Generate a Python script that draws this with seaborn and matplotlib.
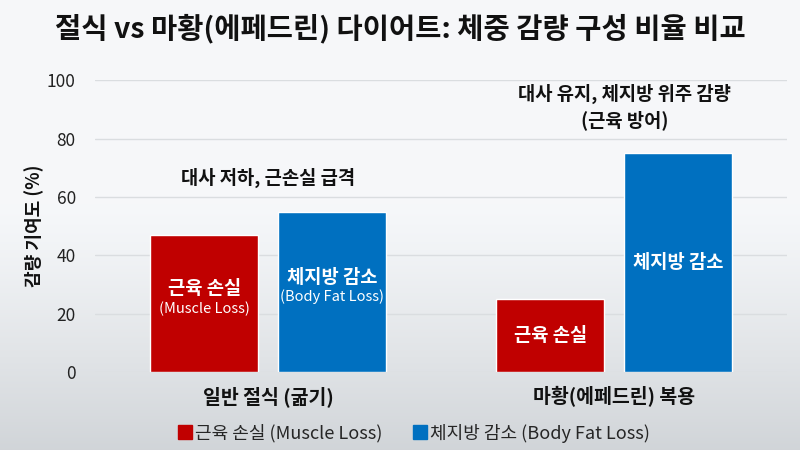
import numpy as np
import pandas as pd
import matplotlib
matplotlib.use("Agg")
import matplotlib.pyplot as plt
import seaborn as sns
from matplotlib.lines import Line2D

# data
groups = ["일반 절식 (굶기)", "마황(에페드린) 복용"]
components = ["근육 손실 (Muscle Loss)", "체지방 감소 (Body Fat Loss)"]
muscle_loss = [47, 25]
fat_loss = [55, 75]
bar_titles = ["근육 손실", "체지방 감소"]
bar_subs = [["(Muscle Loss)", "(Body Fat Loss)"], ["", ""]]
notes = ["대사 저하, 근손실 급격", "대사 유지, 체지방 위주 감량\n(근육 방어)"]
yticks = [0, 20, 40, 60, 80, 100]

red = "#C00000"
blue = "#0070C0"

df = pd.DataFrame({
    "group": groups * 2,
    "component": [components[0]] * 2 + [components[1]] * 2,
    "value": muscle_loss + fat_loss,
})

sns.set_theme(style="white")
plt.rcParams["font.family"] = ["Noto Sans CJK KR", "DejaVu Sans"]

fig = plt.figure(figsize=(8, 4.5), dpi=100)

# background gradient
bg = fig.add_axes([0, 0, 1, 1], zorder=-10)
t = np.linspace(0, 1, 256)
shade = np.clip((t - 0.45) / 0.55, 0, 1) ** 1.2
top = np.array([0.965, 0.972, 0.980])
bottom = np.array([0.82, 0.835, 0.85])
grad = top[None, :] * (1 - shade[:, None]) + bottom[None, :] * shade[:, None]
bg.imshow(grad[:, None, :], aspect="auto", extent=[0, 1, 0, 1], origin="upper")
bg.set_axis_off()

ax = fig.add_axes([0.119, 0.173, 0.865, 0.649])
ax.set_facecolor("none")

sns.barplot(data=df, x="group", y="value", hue="component",
            palette=[red, blue], saturation=1, width=0.74, gap=0.16,
            legend=False, ax=ax, zorder=3)

ax.set_ylim(0, 100)
ax.set_xlim(-0.5, 1.5)
ax.set_yticks(yticks)
ax.yaxis.grid(True, color="#DADDE0", linewidth=1, zorder=0)
ax.set_axisbelow(True)
for s in ax.spines.values():
    s.set_visible(False)
ax.tick_params(axis="y", length=0, labelsize=12.5, labelcolor="#222222", pad=14)
ax.tick_params(axis="x", length=0, labelsize=14, labelcolor="#111111", pad=10)
for lbl in ax.get_xticklabels():
    lbl.set_fontweight("bold")
ax.set_xlabel("")
ax.set_ylabel("감량 기여도 (%)", fontsize=13, fontweight="bold", color="#111111", labelpad=2)

# labels inside bars
for i, cont in enumerate(ax.containers):
    for j, bar in enumerate(cont):
        cx = bar.get_x() + bar.get_width() / 2
        cy = bar.get_height() / 2
        sub = bar_subs[j][i]
        if sub:
            ax.text(cx, cy + 1.8, bar_titles[i], ha="center", va="bottom",
                    color="white", fontsize=13.5, fontweight="bold", zorder=5)
            ax.text(cx, cy + 0.8, sub, ha="center", va="top",
                    color="white", fontsize=10.5, zorder=5)
        else:
            ax.text(cx, cy, bar_titles[i], ha="center", va="center",
                    color="white", fontsize=13.5, fontweight="bold", zorder=5)

# notes above groups
for j, note in enumerate(notes):
    top_val = max(muscle_loss[j], fat_loss[j])
    ax.text(j + 0.03 * j, top_val + 8, note, ha="center", va="bottom",
            fontsize=13.5, fontweight="bold", color="#111111", linespacing=1.35)

fig.suptitle("절식 vs 마황(에페드린) 다이어트: 체중 감량 구성 비율 비교",
             fontsize=20.5, fontweight="bold", color="#111111", y=0.97)

handles = [Line2D([], [], marker="s", linestyle="", markersize=10, color=c)
           for c in [red, blue]]
fig.legend(handles, components, loc="lower center", bbox_to_anchor=(0.516, -0.02),
           ncol=2, frameon=False, fontsize=13, handletextpad=0.05,
           handlelength=1.0, columnspacing=1.6,
           prop={"size": 13, "weight": "medium"})

fig.savefig("out.png", dpi=100)
